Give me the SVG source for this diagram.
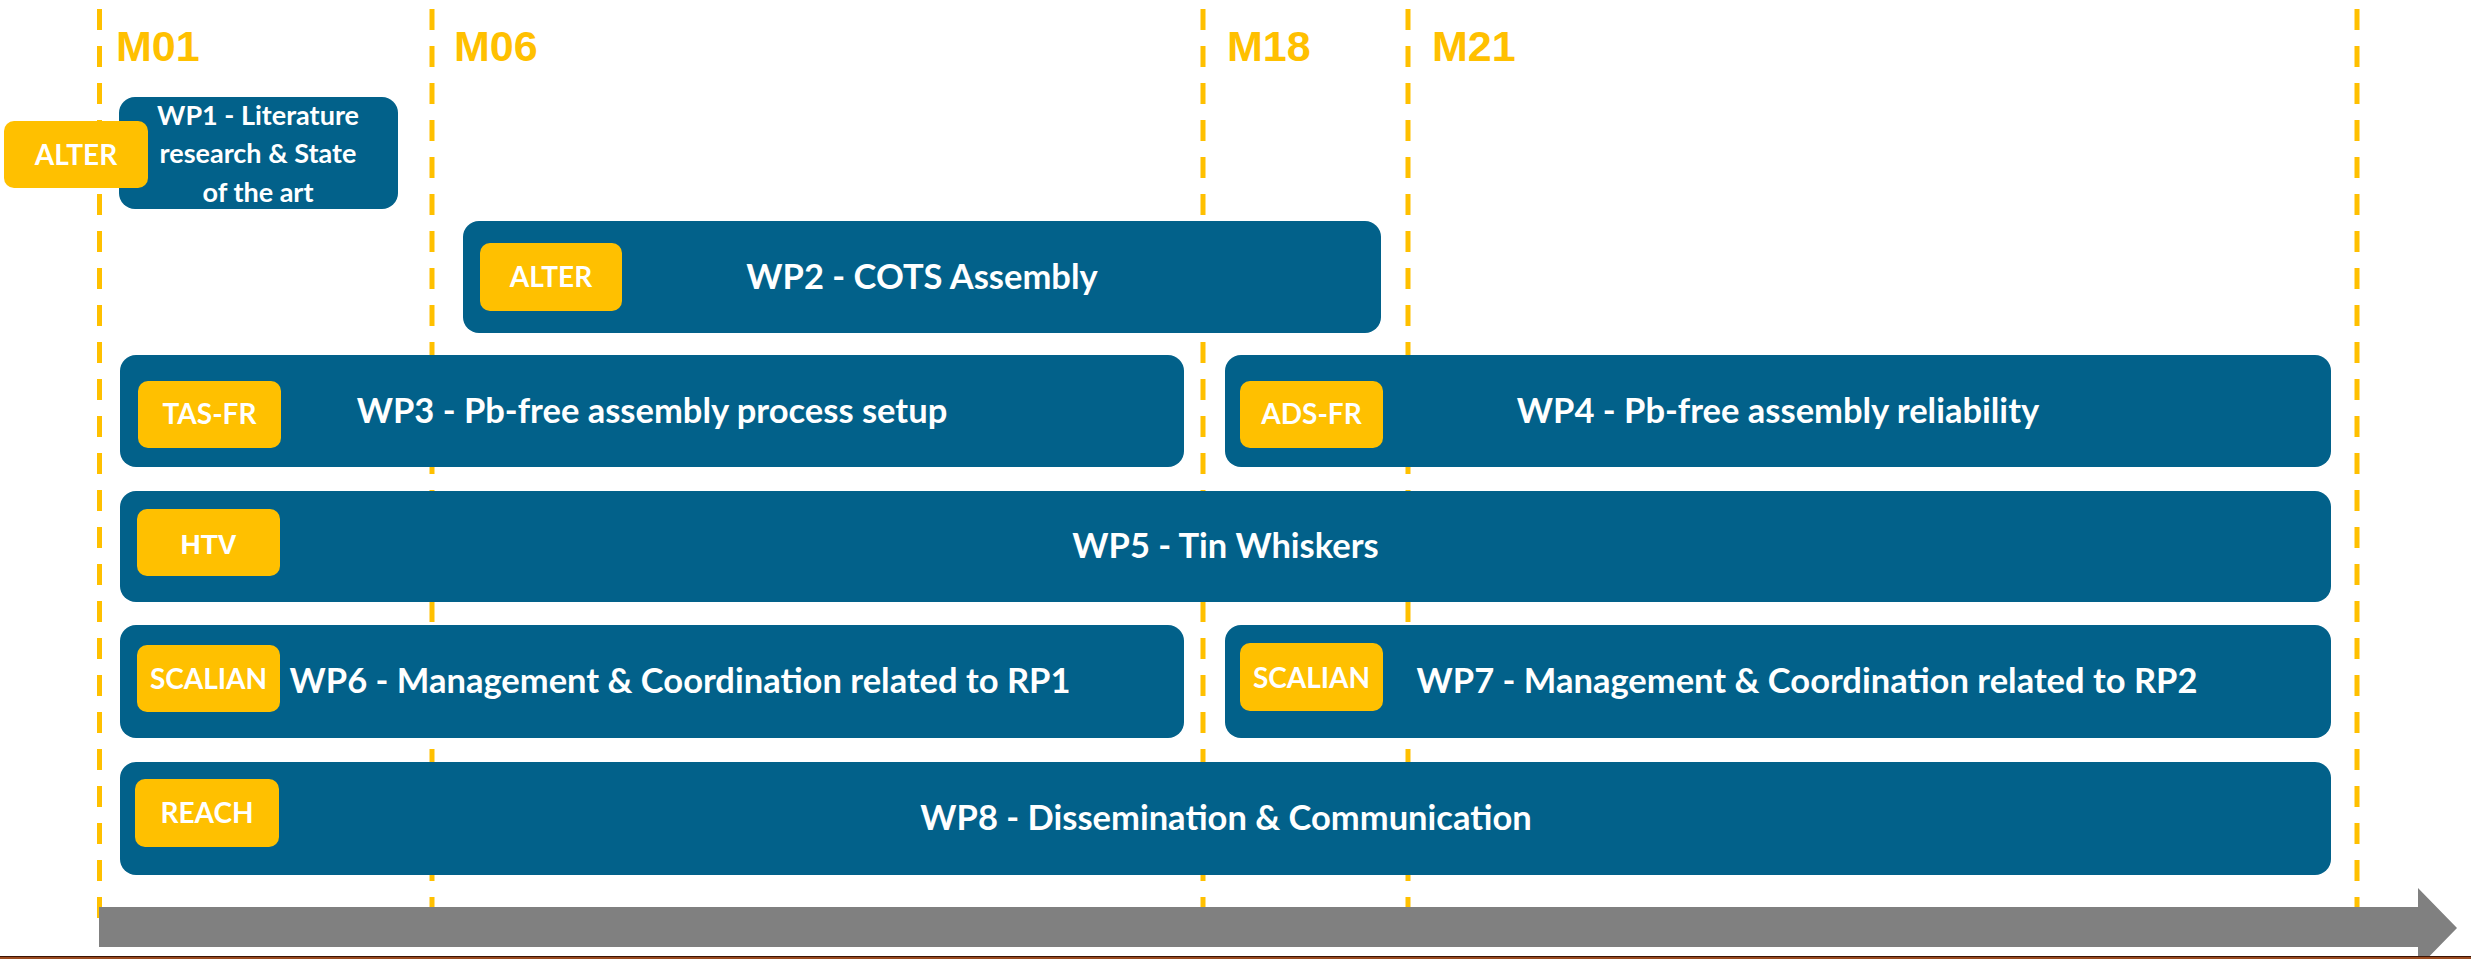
<svg xmlns="http://www.w3.org/2000/svg" width="2471" height="959" viewBox="0 0 2471 959">
<style>
.guide{stroke:#FFC000;stroke-width:5;stroke-dasharray:21 16;fill:none}
.mlabel{font-family:"Liberation Sans",Arial,sans-serif;font-weight:bold;font-size:43px;fill:#FFC000}
.wp{fill:#02618A}
.badge{fill:#FFC000}
.wt{font-family:Lato,"Open Sans",sans-serif;font-weight:bold;font-size:34.5px;fill:#FFFFFF}
.bt{font-family:Lato,"Open Sans",sans-serif;font-weight:bold;font-size:28px;fill:#FFFFFF;text-anchor:middle}
.mid{text-anchor:middle}
</style>
<rect width="2471" height="959" fill="#FFFFFF"/>
<g id="timeline">
<line class="guide" x1="99.5" y1="9" x2="99.5" y2="930"/>
<line class="guide" x1="432" y1="9" x2="432" y2="930"/>
<line class="guide" x1="1203" y1="9" x2="1203" y2="930"/>
<line class="guide" x1="1408" y1="9" x2="1408" y2="930"/>
<line class="guide" x1="2357" y1="9" x2="2357" y2="930"/>
<text class="mlabel" x="116" y="61">M01</text>
<text class="mlabel" x="454" y="61">M06</text>
<text class="mlabel" x="1227" y="61">M18</text>
<text class="mlabel" x="1432" y="61">M21</text>
</g>
<g id="connectors">
<polygon points="99,907 2418,907 2418,888 2457,928 2418,968 2418,947 99,947" fill="#808080"/>
</g>
<g id="wp1">
<rect class="wp" x="119" y="97" width="279" height="112" rx="16"/>
<text class="wt mid" x="258" y="125" style="font-size:27px">WP1 - Literature</text>
<text class="wt mid" x="258" y="163" style="font-size:27px">research &amp; State</text>
<text class="wt mid" x="258" y="202" style="font-size:27px">of the art</text>
<rect class="badge" x="4" y="121" width="144" height="67" rx="10"/>
<text class="bt" x="76" y="165">ALTER</text>
</g>
<g id="wp2">
<rect class="wp" x="463" y="221" width="918" height="112" rx="16"/>
<rect class="badge" x="480" y="243" width="142" height="68" rx="10"/>
<text class="bt" x="551" y="287">ALTER</text>
<text class="wt mid" x="922" y="289">WP2 - COTS Assembly</text>
</g>
<g id="wp3">
<rect class="wp" x="120" y="355" width="1064" height="112" rx="16"/>
<rect class="badge" x="138" y="381" width="143" height="67" rx="10"/>
<text class="bt" x="209.5" y="424">TAS-FR</text>
<text class="wt mid" x="652" y="423">WP3 - Pb-free assembly process setup</text>
</g>
<g id="wp4">
<rect class="wp" x="1225" y="355" width="1106" height="112" rx="16"/>
<rect class="badge" x="1240" y="381" width="143" height="67" rx="10"/>
<text class="bt" x="1311.5" y="424">ADS-FR</text>
<text class="wt mid" x="1778" y="423">WP4 - Pb-free assembly reliability</text>
</g>
<g id="wp5">
<rect class="wp" x="120" y="491" width="2211" height="111" rx="16"/>
<rect class="badge" x="137" y="509" width="143" height="67" rx="10"/>
<text class="bt" x="208.5" y="554" style="font-family:'Liberation Sans',Arial,sans-serif">HTV</text>
<text class="wt mid" x="1225.5" y="558">WP5 - Tin Whiskers</text>
</g>
<g id="wp6">
<rect class="wp" x="120" y="625" width="1064" height="113" rx="16"/>
<rect class="badge" x="137" y="645" width="143" height="67" rx="10"/>
<text class="bt" x="208.5" y="689">SCALIAN</text>
<text class="wt mid" x="680" y="693">WP6 - Management &amp; Coordination related to RP1</text>
</g>
<g id="wp7">
<rect class="wp" x="1225" y="625" width="1106" height="113" rx="16"/>
<rect class="badge" x="1240" y="643" width="143" height="68" rx="10"/>
<text class="bt" x="1311.5" y="688">SCALIAN</text>
<text class="wt mid" x="1807" y="693">WP7 - Management &amp; Coordination related to RP2</text>
</g>
<g id="wp8">
<rect class="wp" x="120" y="762" width="2211" height="113" rx="16"/>
<rect class="badge" x="135" y="779" width="144" height="68" rx="10"/>
<text class="bt" x="207" y="823">REACH</text>
<text class="wt mid" x="1226" y="830">WP8 - Dissemination &amp; Communication</text>
</g>
<rect x="0" y="956" width="2471" height="1" fill="#3A1405"/>
<rect x="0" y="957" width="2471" height="2" fill="#9A4A1E"/>
</svg>
